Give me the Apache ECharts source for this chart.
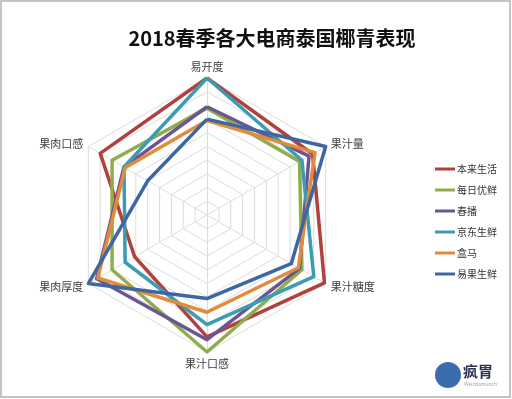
<!DOCTYPE html>
<html>
<head>
<meta charset="utf-8">
<script src="https://cdn.jsdelivr.net/npm/echarts@6/dist/echarts.min.js"></script>
<style>
html,body{margin:0;padding:0;background:#fff;}
#c{width:512px;height:399px;}
</style>
</head>
<body>
<div id="c"></div>
<script>
// Indicators in clockwise order as drawn (top first)
const indicatorsClockwise = ['易开度', '果汁量', '果汁糖度', '果汁口感', '果肉厚度', '果肉口感'];
const seriesNames = ['本来生活', '每日优鲜', '春播', '京东生鲜', '盒马', '易果生鲜'];
// values in clockwise indicator order
const benlai  = [10.0, 8.9, 9.9, 8.9, 6.1, 9.0];
const meiri   = [7.8, 7.8, 8.0, 10.0, 8.0, 8.0];
const chunbo  = [7.9, 8.6, 7.8, 9.1, 9.3, 7.0];
const jingdong= [10.0, 8.0, 9.0, 8.0, 6.9, 7.0];
const hema    = [6.9, 9.1, 7.7, 7.1, 9.2, 6.9];
const yiguo   = [7.0, 10.0, 7.1, 6.1, 10.0, 5.0];
const axisMax = 10;

const colors = ['#b0413e', '#8fad4c', '#6b5593', '#3b9cb4', '#e38b3d', '#3c67a2'];
const allValues = [benlai, meiri, chunbo, jingdong, hema, yiguo];

// ECharts places indicators counter-clockwise; reorder so they appear clockwise
const order = [0, 5, 4, 3, 2, 1];
const indicator = order.map(i => ({ name: indicatorsClockwise[i], min: 0, max: axisMax }));

const chart = echarts.init(document.getElementById('c'));
chart.setOption({
  animation: false,
  color: colors,
  title: {
    text: '2018春季各大电商泰国椰青表现',
    left: 267,
    textAlign: 'center',
    top: 23,
    textStyle: { fontSize: 20, fontWeight: 'bold', color: '#111', fontFamily: 'Noto Sans CJK SC' }
  },
  legend: {
    orient: 'vertical',
    left: 430,
    top: 157,
    icon: 'rect',
    itemWidth: 20,
    itemHeight: 3,
    itemGap: 7,
    textStyle: { fontSize: 10, color: '#333', lineHeight: 14, fontFamily: 'Noto Sans CJK SC', padding: [0, 0, 0, -3] },
    data: seriesNames
  },
  radar: {
    center: [207, 215],
    radius: 137,
    startAngle: 90,
    splitNumber: 10,
    shape: 'polygon',
    nameGap: 6,
    indicator: indicator,
    axisName: { color: '#404040', fontSize: 11, fontFamily: 'Noto Sans CJK SC' },
    splitLine: { lineStyle: { color: '#dcdcdc', width: 1 } },
    splitArea: { show: false },
    axisLine: { lineStyle: { color: '#dcdcdc', width: 1 } }
  },
  series: [{
    type: 'radar',
    symbol: 'none',
    lineStyle: { width: 3.5 },
    data: seriesNames.map((n, k) => ({
      name: n,
      value: order.map(i => allValues[k][i]),
      lineStyle: { color: colors[k], width: 3.5 },
      itemStyle: { color: colors[k] }
    }))
  }],
  graphic: [
    { type: 'rect', shape: { x: 1, y: 1, width: 509, height: 396 }, style: { fill: 'none', stroke: '#c4c4c4', lineWidth: 2 }, silent: true },
    { type: 'circle', shape: { cx: 448, cy: 375, r: 13 }, style: { fill: '#3a6cae' } },
    { type: 'text', style: { x: 463, y: 364, text: '疯胃', fontSize: 15, fontWeight: 'bold', fill: '#2b3550', fontFamily: 'Noto Sans CJK SC' } },
    { type: 'text', style: { x: 464, y: 382, text: 'Weirdomunch', fontSize: 5, fill: '#9aa3b0', fontFamily: 'Noto Sans' } }
  ]
});
</script>
</body>
</html>
